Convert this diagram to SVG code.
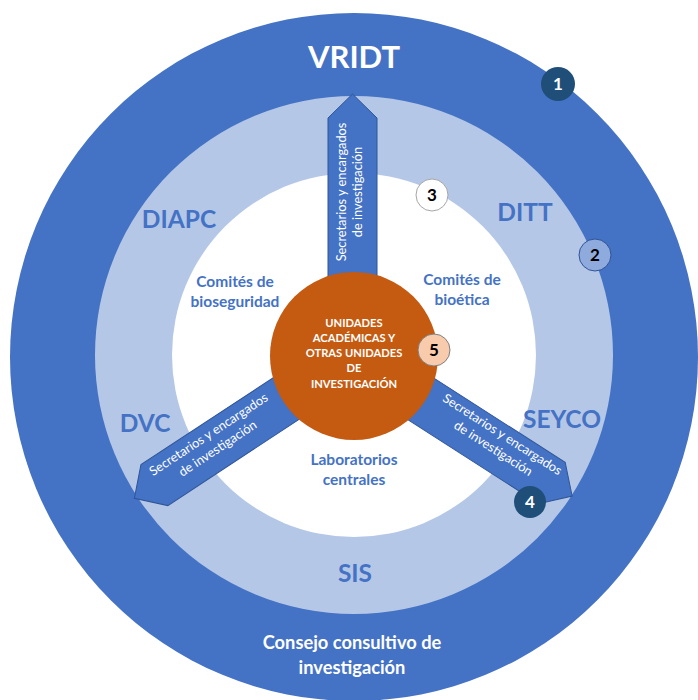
<svg xmlns="http://www.w3.org/2000/svg" width="698" height="700" viewBox="0 0 698 700">
<style>
.lbl{font-family:Lato,"Open Sans","Liberation Sans",sans-serif;font-weight:bold;fill:#4472C4;text-anchor:middle}
.big{font-size:24.5px}
.sm{font-size:15.5px}
.wh{font-family:Lato,"Open Sans","Liberation Sans",sans-serif;fill:#fff;text-anchor:middle}
.arr{fill:#4472C4;stroke:#2F5597;stroke-width:1}
.at{font-family:Lato,"Open Sans","Liberation Sans",sans-serif;font-size:12.8px;fill:#fff;text-anchor:middle}
.bn{font-family:Lato,"Open Sans","Liberation Sans",sans-serif;font-weight:bold;font-size:17px;text-anchor:middle}
</style>
<rect width="698" height="700" fill="#fff"/>
<g id="outer"><circle cx="354" cy="357" r="344" fill="#4472C4"/></g>
<g id="ring"><circle cx="354" cy="355" r="259" fill="#B4C7E7"/></g>
<g id="inner"><circle cx="354" cy="355" r="182" fill="#fff"/></g>
<g id="connectors">
<g id="arrow-top">
<polygon class="arr" points="328,300 328,118 352.5,94 377,118 377,300"/>
<text class="at" transform="translate(346,192) rotate(-90)">Secretarios y encargados</text>
<text class="at" transform="translate(362,192) rotate(-90)">de investigación</text>
</g>
<g id="arrow-left" transform="rotate(-123.3 352.5 355)">
<polygon class="arr" points="328,300 328,118 352.5,94 377,118 377,300"/>
</g>
<g id="arrow-right" transform="rotate(122.7 352.5 355)">
<polygon class="arr" points="328,300 328,118 352.5,94 377,118 377,300"/>
</g>
<text class="at" transform="translate(211,438) rotate(-33.4)">Secretarios y encargados</text>
<text class="at" transform="translate(220,452) rotate(-33.4)">de investigación</text>
<text class="at" transform="translate(500,438) rotate(32.7)">Secretarios y encargados</text>
<text class="at" transform="translate(491,452) rotate(32.7)">de investigación</text>
</g>
<g id="center">
<circle cx="354" cy="356" r="84" fill="#C55A11"/>
<g class="wh" font-size="11.2" font-weight="bold">
<text x="354" y="327">UNIDADES</text>
<text x="354" y="342">ACADÉMICAS Y</text>
<text x="354" y="357">OTRAS UNIDADES</text>
<text x="354" y="372">DE</text>
<text x="354" y="388">INVESTIGACIÓN</text>
</g>
</g>
<g id="vridt"><text class="wh" x="354" y="68" font-size="31" font-weight="bold">VRIDT</text></g>
<g id="diapc"><text class="lbl big" x="179" y="228">DIAPC</text></g>
<g id="ditt"><text class="lbl big" x="525" y="221">DITT</text></g>
<g id="dvc"><text class="lbl big" x="145" y="432">DVC</text></g>
<g id="seyco"><text class="lbl big" x="562" y="428">SEYCO</text></g>
<g id="sis"><text class="lbl big" x="355" y="582">SIS</text></g>
<g id="bioseguridad"><text class="lbl sm" x="235" y="287">Comités de</text><text class="lbl sm" x="235" y="307">bioseguridad</text></g>
<g id="bioetica"><text class="lbl sm" x="462" y="285">Comités de</text><text class="lbl sm" x="462" y="305">bioética</text></g>
<g id="laboratorios"><text class="lbl sm" x="354" y="465">Laboratorios</text><text class="lbl sm" x="354" y="485">centrales</text></g>
<g id="consejo"><text class="wh" x="352" y="649" font-size="18.3" font-weight="bold">Consejo consultivo de</text><text class="wh" x="352" y="674" font-size="18.3" font-weight="bold">investigación</text></g>
<g id="b1"><circle cx="558" cy="84" r="17" fill="#1F4E79"/><text class="bn" x="558" y="90" fill="#fff">1</text></g>
<g id="b2"><circle cx="595" cy="255" r="16" fill="#8FAADC" stroke="#2F5597" stroke-width="1"/><text class="bn" x="595" y="261" fill="#000">2</text></g>
<g id="b3"><circle cx="432" cy="195" r="16" fill="#fff" stroke="#A6A6A6" stroke-width="1"/><text class="bn" x="432" y="201" fill="#000">3</text></g>
<g id="b4"><circle cx="530" cy="502" r="16" fill="#1F4E79"/><text class="bn" x="530" y="508" fill="#fff">4</text></g>
<g id="b5"><circle cx="434" cy="350" r="16" fill="#F8CBAD" stroke="#7F7F7F" stroke-width="1"/><text class="bn" x="434" y="356" fill="#000">5</text></g>
</svg>
